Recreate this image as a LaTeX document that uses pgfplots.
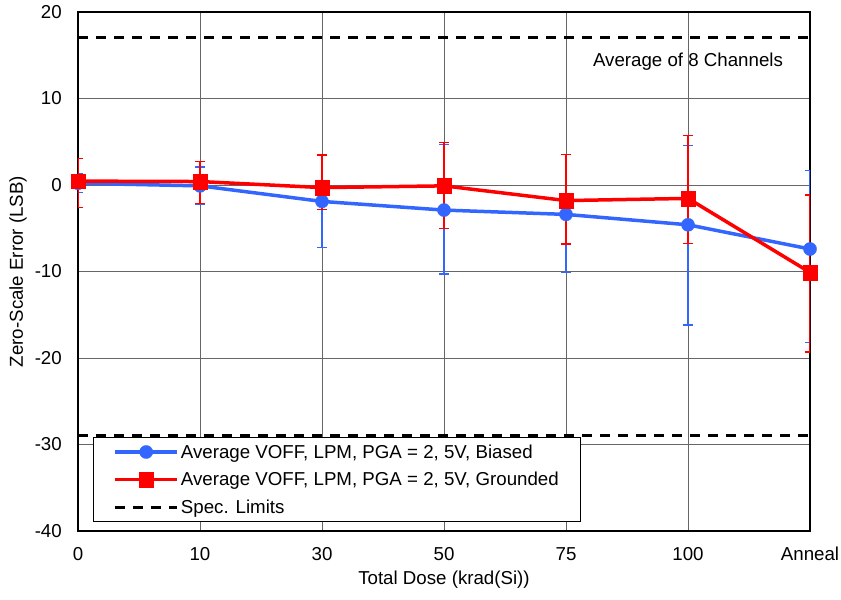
\documentclass[border=0pt]{standalone}
\usepackage{pgfplots}
\pgfplotsset{compat=1.18}
\usepackage{fontspec}
\setmainfont{Liberation Sans}
\definecolor{biasblue}{RGB}{51,102,255}
\definecolor{gndred}{RGB}{255,0,0}
\newcommand\chartfont{\fontsize{18.7bp}{22bp}\selectfont}
\begin{document}
\begin{tikzpicture}
\begin{axis}[
  scale only axis,
  width=732bp, height=519bp,
  xmin=0, xmax=6, ymin=-40, ymax=20,
  xtick={0,1,2,3,4,5,6},
  xticklabels={0,10,30,50,75,100,Anneal},
  ytick={-40,-30,-20,-10,0,10,20},
  major tick length=0pt,
  grid=major,
  grid style={draw=black!60, line width=1bp},
  axis line style={line width=1.3bp},
  /pgf/number format/assume math mode=true,
  tick label style={font=\chartfont, inner sep=0pt},
  label style={font=\chartfont},
  xticklabel style={anchor=north, yshift=-16bp},
  yticklabel style={anchor=east, xshift=-16bp},
  xlabel={Total Dose (krad(Si))},
  ylabel={Zero-Scale Error (LSB)},
  xlabel style={at={(axis description cs:0.5,-0.0944)}, anchor=center},
  ylabel style={at={(axis description cs:-0.082,0.5)}, anchor=center},
  legend style={
    at={(rel axis cs:0.0205,0.0173)}, anchor=south west,
    font=\chartfont,
    draw=black, line width=0.9bp,
    row sep=8.5bp, inner xsep=20bp, inner ysep=5bp,
    legend cell align=left,
  },
  legend image code/.code={
    \draw[#1] (0cm,0cm) -- (62bp,0cm);
    \path[#1, mark repeat=2, mark phase=2] plot coordinates {(0cm,0cm) (31bp,0cm) (62bp,0cm)};
  },
]
% Biased devices
\addplot[biasblue, line width=3.5bp, mark=*, mark size=6.6bp,
  mark options={line width=0.3bp},
  error bars/.cd, y dir=both, y explicit,
  error bar style={line width=1.4bp}, error mark options={rotate=90, mark size=5bp, line width=1.4bp}]
  coordinates {
  (0,0.2)   += (0,1.1) -= (0,1.1)
  (1,-0.1)  += (0,2.2) -= (0,2.1)
  (2,-1.9)  += (0,5.3) -= (0,5.3)
  (3,-2.9)  += (0,7.6) -= (0,7.4)
  (4,-3.4)  += (0,6.9) -= (0,6.7)
  (5,-4.6)  += (0,9.2) -= (0,11.6)
  (6,-7.4)  += (0,9.1) -= (0,10.8)
};
\addlegendentry{Average VOFF, LPM, PGA = 2, 5V, Biased}
% Grounded devices
\addplot[gndred, line width=3.5bp, mark=square*, mark size=7.3bp,
  mark options={line width=0.3bp},
  error bars/.cd, y dir=both, y explicit,
  error bar style={line width=1.4bp}, error mark options={rotate=90, mark size=5bp, line width=1.4bp}]
  coordinates {
  (0,0.45)  += (0,2.6) -= (0,3.05)
  (1,0.4)   += (0,2.35) -= (0,2.55)
  (2,-0.3)  += (0,3.75) -= (0,2.55)
  (3,-0.1)  += (0,5.0) -= (0,4.9)
  (4,-1.8)  += (0,5.3) -= (0,5.0)
  (5,-1.55) += (0,7.3) -= (0,5.2)
  (6,-10.1) += (0,8.95) -= (0,9.2)
};
\addlegendentry{Average VOFF, LPM, PGA = 2, 5V, Grounded}
% Specification limits
\addplot[black, line width=3bp, dash pattern=on 10bp off 8bp] coordinates {(0,17) (6,17)};
\addlegendentry{Spec. Limits}
\addplot[black, line width=3bp, dash pattern=on 10bp off 8bp, forget plot] coordinates {(0,-29) (6,-29)};
\node[font=\chartfont] at (axis cs:5,14.3) {Average of 8 Channels};
\end{axis}
% page frame around the plot area and its labels
\pgfresetboundingbox
\path (current axis.south west) ++(-78bp,-68bp) rectangle ([shift={(31bp,12bp)}]current axis.north east);
\end{tikzpicture}
\end{document}
